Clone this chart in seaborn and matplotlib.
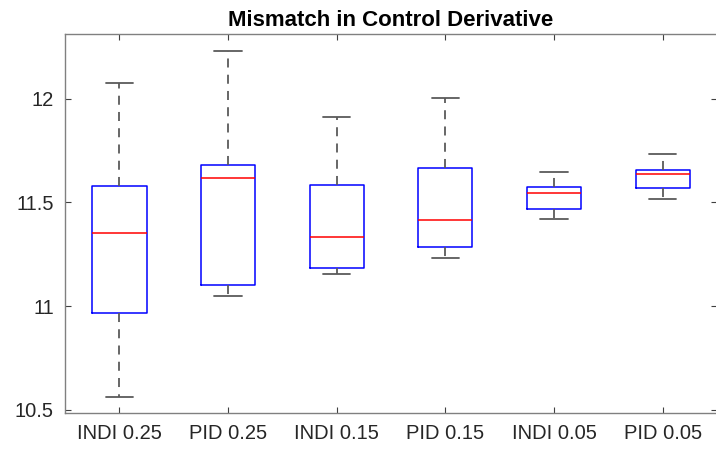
import numpy as np
import pandas as pd
import matplotlib
matplotlib.use("Agg")
import matplotlib.pyplot as plt
import seaborn as sns

# five-number summaries: lower whisker, Q1, median, Q3, upper whisker
methods = ["INDI 0.25", "PID 0.25", "INDI 0.15", "PID 0.15", "INDI 0.05", "PID 0.05"]
indi_025 = [10.560, 10.968, 11.350, 11.577, 12.077]
pid_025 = [11.048, 11.102, 11.620, 11.679, 12.229]
indi_015 = [11.156, 11.182, 11.335, 11.584, 11.913]
pid_015 = [11.230, 11.284, 11.413, 11.668, 12.002]
indi_005 = [11.420, 11.469, 11.546, 11.575, 11.647]
pid_005 = [11.517, 11.570, 11.638, 11.657, 11.734]

ytick_vals = [10.5, 11, 11.5, 12]
ytick_labels = ["10.5", "11", "11.5", "12"]

series = [indi_025, pid_025, indi_015, pid_015, indi_005, pid_005]
rows = []
for m, vals in zip(methods, series):
    for v in vals:
        rows.append({"method": m, "value": v})
df = pd.DataFrame(rows)

sns.set_style("white")
plt.rcParams["font.family"] = ["Liberation Sans", "DejaVu Sans"]

fig = plt.figure(figsize=(7.16, 4.49), dpi=100)
ax = fig.add_axes([65 / 716, 1 - 413 / 449, (717 - 65) / 716, (413 - 34) / 449])

sns.boxplot(data=df, x="method", y="value", order=methods, ax=ax,
            width=0.5, whis=(0, 100), fill=False, linewidth=1.1,
            capwidths=0.25, showfliers=False,
            boxprops=dict(color="#0000ff"),
            medianprops=dict(color="#ff0000", linewidth=1.1),
            whiskerprops=dict(color="#5a5a5a", linestyle=(0, (5, 4)), linewidth=1.3),
            capprops=dict(color="#5a5a5a", linewidth=1.3))

ax.set_xlim(-0.5, 5.5)
ax.set_ylim(10.4835, 12.313)
ax.set_yticks(ytick_vals)
ax.set_yticklabels(ytick_labels)
ax.set_xlabel("")
ax.set_ylabel("")

for side in ["left", "bottom", "top"]:
    ax.spines[side].set_visible(True)
    ax.spines[side].set_color("#808080")
    ax.spines[side].set_linewidth(1.0)
ax.spines["right"].set_visible(False)

ax.tick_params(axis="both", direction="in", length=4, width=0.8, color="#404040",
               labelsize=14.5, labelcolor="#262626", pad=8)
ax.tick_params(axis="x", top=True, bottom=True)
ax.tick_params(axis="y", left=True, right=True)

ax.set_title("Mismatch in Control Derivative", fontsize=16, fontweight="bold",
             color="black", pad=6)

fig.savefig("out.png", dpi=100)
